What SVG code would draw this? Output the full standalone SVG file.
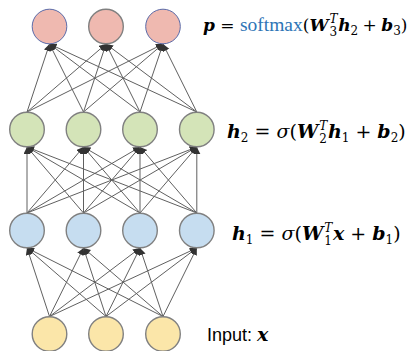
<svg xmlns="http://www.w3.org/2000/svg" width="414" height="351" viewBox="0 0 414 351">
<style>
.n{stroke:#808080;stroke-width:1.4}
.r{fill:#efb9b0}
.g{fill:#d4e4b8}
.b{fill:#c6ddf0}
.y{fill:#fbe6a9}
.e line{stroke:#606060;stroke-width:1;marker-end:url(#ah)}
.m{font-family:"DejaVu Serif","Liberation Serif",serif;font-size:19px;fill:#000}
.m1{font-size:17px}
.bi{font-weight:bold;font-style:italic}
.it{font-style:italic}
.s{font-size:12px}
.sm{fill:#2e75b6;font-family:"Liberation Serif","DejaVu Serif",serif;font-size:19.5px}
.lab{font-family:"Liberation Sans",Arial,sans-serif;font-size:18px;fill:#000}
</style>
<defs>
<marker id="ah" markerUnits="userSpaceOnUse" markerWidth="8" markerHeight="8" refX="7" refY="3.5" orient="auto">
<path d="M0,0 L7,3.5 L0,7 z" fill="#333"/>
</marker>
</defs>
<rect width="414" height="351" fill="#fff"/>
<g id="connectors" class="e">
<line x1="49.5" y1="316.5" x2="27" y2="248"/>
<line x1="49.5" y1="316.5" x2="83.5" y2="248"/>
<line x1="49.5" y1="316.5" x2="140" y2="248"/>
<line x1="49.5" y1="316.5" x2="196.8" y2="248"/>
<line x1="106" y1="316.5" x2="27" y2="248"/>
<line x1="106" y1="316.5" x2="83.5" y2="248"/>
<line x1="106" y1="316.5" x2="140" y2="248"/>
<line x1="106" y1="316.5" x2="196.8" y2="248"/>
<line x1="163" y1="316.5" x2="27" y2="248"/>
<line x1="163" y1="316.5" x2="83.5" y2="248"/>
<line x1="163" y1="316.5" x2="140" y2="248"/>
<line x1="163" y1="316.5" x2="196.8" y2="248"/>
<line x1="27" y1="213" x2="27" y2="147"/>
<line x1="27" y1="213" x2="83.5" y2="147"/>
<line x1="27" y1="213" x2="140" y2="147"/>
<line x1="27" y1="213" x2="196.8" y2="147"/>
<line x1="83.5" y1="213" x2="27" y2="147"/>
<line x1="83.5" y1="213" x2="83.5" y2="147"/>
<line x1="83.5" y1="213" x2="140" y2="147"/>
<line x1="83.5" y1="213" x2="196.8" y2="147"/>
<line x1="140" y1="213" x2="27" y2="147"/>
<line x1="140" y1="213" x2="83.5" y2="147"/>
<line x1="140" y1="213" x2="140" y2="147"/>
<line x1="140" y1="213" x2="196.8" y2="147"/>
<line x1="196.8" y1="213" x2="27" y2="147"/>
<line x1="196.8" y1="213" x2="83.5" y2="147"/>
<line x1="196.8" y1="213" x2="140" y2="147"/>
<line x1="196.8" y1="213" x2="196.8" y2="147"/>
<line x1="27" y1="112" x2="49.5" y2="44"/>
<line x1="27" y1="112" x2="106" y2="44"/>
<line x1="27" y1="112" x2="163" y2="44"/>
<line x1="83.5" y1="112" x2="49.5" y2="44"/>
<line x1="83.5" y1="112" x2="106" y2="44"/>
<line x1="83.5" y1="112" x2="163" y2="44"/>
<line x1="140" y1="112" x2="49.5" y2="44"/>
<line x1="140" y1="112" x2="106" y2="44"/>
<line x1="140" y1="112" x2="163" y2="44"/>
<line x1="196.8" y1="112" x2="49.5" y2="44"/>
<line x1="196.8" y1="112" x2="106" y2="44"/>
<line x1="196.8" y1="112" x2="163" y2="44"/>
</g>
<g id="out1"><circle class="r" cx="49.5" cy="26.5" r="17.3" stroke="#5a6aa8" stroke-width="1"/></g>
<g id="out2"><circle class="n r" cx="106" cy="26.5" r="17.3"/></g>
<g id="out3"><circle class="r" cx="163" cy="26.5" r="17.3" stroke="#5a6aa8" stroke-width="1"/></g>
<g id="h2_1"><circle class="n g" cx="27" cy="129.5" r="17.3"/></g>
<g id="h2_2"><circle class="n g" cx="83.5" cy="129.5" r="17.3"/></g>
<g id="h2_3"><circle class="n g" cx="140" cy="129.5" r="17.3"/></g>
<g id="h2_4"><circle class="n g" cx="196.8" cy="129.5" r="17.3"/></g>
<g id="h1_1"><circle class="n b" cx="27" cy="230.5" r="17.3"/></g>
<g id="h1_2"><circle class="n b" cx="83.5" cy="230.5" r="17.3"/></g>
<g id="h1_3"><circle class="n b" cx="140" cy="230.5" r="17.3"/></g>
<g id="h1_4"><circle class="n b" cx="196.8" cy="230.5" r="17.3"/></g>
<g id="in1"><circle class="n y" cx="49.5" cy="334" r="17.3"/></g>
<g id="in2"><circle class="n y" cx="106" cy="334" r="17.3"/></g>
<g id="in3"><circle class="n y" cx="163" cy="334" r="17.3"/></g>
<g id="label_p">
<text class="m m1" x="203" y="31"><tspan class="bi">p</tspan> = <tspan class="sm">softmax</tspan>(<tspan class="bi">W</tspan><tspan class="s it" dx="1" dy="-8">T</tspan><tspan class="s" dx="-8" dy="13">3</tspan><tspan class="bi" dx="1" dy="-5">h</tspan><tspan class="s" dy="4">2</tspan><tspan dx="-1" dy="-4"> + </tspan><tspan class="bi" dx="-1">b</tspan><tspan class="s" dy="4">3</tspan><tspan dy="-4">)</tspan></text>
</g>
<g id="label_h2">
<text class="m" x="227" y="138"><tspan class="bi">h</tspan><tspan class="s" dy="4">2</tspan><tspan dy="-4"> = </tspan><tspan class="it">σ</tspan>(<tspan class="bi">W</tspan><tspan class="s it" dx="1" dy="-8">T</tspan><tspan class="s" dx="-8" dy="13">2</tspan><tspan class="bi" dx="1" dy="-5">h</tspan><tspan class="s" dy="4">1</tspan><tspan dy="-4"> + </tspan><tspan class="bi">b</tspan><tspan class="s" dy="4">2</tspan><tspan dy="-4">)</tspan></text>
</g>
<g id="label_h1">
<text class="m" x="232" y="240"><tspan class="bi">h</tspan><tspan class="s" dy="4">1</tspan><tspan dy="-4"> = </tspan><tspan class="it">σ</tspan>(<tspan class="bi">W</tspan><tspan class="s it" dx="1" dy="-8">T</tspan><tspan class="s" dx="-8" dy="13">1</tspan><tspan class="bi" dx="1" dy="-5">x</tspan><tspan> + </tspan><tspan class="bi">b</tspan><tspan class="s" dy="4">1</tspan><tspan dy="-4">)</tspan></text>
</g>
<g id="label_in">
<text class="lab" x="207" y="341">Input: <tspan class="m bi">x</tspan></text>
</g>
</svg>
